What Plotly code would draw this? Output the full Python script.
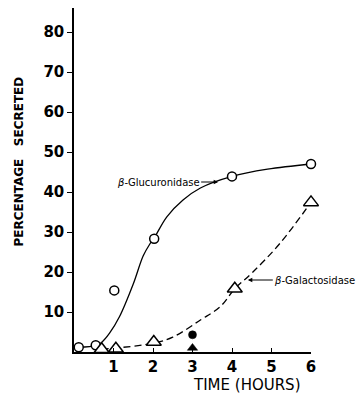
import plotly.graph_objects as go

# Data
glu_hours = [0.12, 0.55, 1.02, 2.03, 4.0, 6.0]
glu_pct = [1.2, 1.7, 15.4, 28.3, 43.9, 47.0]

gal_hours = [0.7, 1.06, 2.02, 4.07, 6.0]
gal_pct = [0.7, 0.8, 2.5, 15.8, 37.4]

# Hand-drawn fitted curves
glu_fit_hours = [0.12, 0.55, 0.7, 0.9, 1.15, 1.5, 1.75, 1.92, 2.03, 2.35, 2.76, 3.2, 4.0, 4.9, 6.0]
glu_fit_pct = [1.2, 1.6, 2.4, 4.7, 8.8, 17.0, 24.0, 27.0, 28.5, 33.8, 38.0, 41.0, 43.9, 45.7, 47.0]

gal_fit_hours = [0.7, 1.06, 2.02, 2.5, 3.2, 3.7, 4.07, 4.53, 5.2, 6.0]
gal_fit_pct = [0.7, 1.0, 2.2, 3.7, 8.0, 11.3, 15.8, 20.0, 27.0, 37.4]

# Single filled points at 3 hours
filled_circle_hours = [3.0]
filled_circle_pct = [4.3]
filled_triangle_hours = [3.0]
filled_triangle_pct = [1.0]

y_ticks = [10, 20, 30, 40, 50, 60, 70, 80]
x_ticks = [1, 2, 3, 4, 5, 6]

TICKFONT = dict(size=15, family="DejaVu Sans", color="black", weight="bold")

fig = go.Figure()

fig.add_trace(go.Scatter(x=glu_fit_hours, y=glu_fit_pct, mode="lines",
                         line=dict(color="black", width=1.3, shape="spline", smoothing=1.0),
                         hoverinfo="skip", showlegend=False, cliponaxis=False))
fig.add_trace(go.Scatter(x=gal_fit_hours, y=gal_fit_pct, mode="lines",
                         line=dict(color="black", width=1.3, dash="7px,4px", shape="spline", smoothing=1.0),
                         hoverinfo="skip", showlegend=False, cliponaxis=False))

fig.add_trace(go.Scatter(x=glu_hours, y=glu_pct, mode="markers", name="β-Glucuronidase",
                         marker=dict(symbol="circle", size=9, color="white",
                                     line=dict(color="black", width=1.5)),
                         showlegend=False, cliponaxis=False))
fig.add_trace(go.Scatter(x=gal_hours, y=gal_pct, mode="markers", name="β-Galactosidase",
                         marker=dict(symbol="triangle-up", size=13, color="white",
                                     line=dict(color="black", width=1.5)),
                         showlegend=False, cliponaxis=False))
fig.add_trace(go.Scatter(x=filled_circle_hours, y=filled_circle_pct, mode="markers",
                         marker=dict(symbol="circle", size=8, color="black", opacity=1,
                                     line=dict(color="black", width=0.5)),
                         showlegend=False, cliponaxis=False))
fig.add_trace(go.Scatter(x=filled_triangle_hours, y=filled_triangle_pct, mode="markers",
                         marker=dict(symbol="triangle-up", size=9, color="black", opacity=1,
                                     line=dict(color="black", width=0.5)),
                         showlegend=False, cliponaxis=False))

fig.update_layout(
    width=362, height=395,
    margin=dict(l=74, r=51, t=8, b=43),
    paper_bgcolor="white", plot_bgcolor="white",
    font=dict(family="DejaVu Sans", color="black"),
    xaxis=dict(range=[0, 6], tickvals=x_ticks, ticktext=[str(v) for v in x_ticks],
               ticks="inside", ticklen=4, tickwidth=1, tickcolor="black",
               showline=True, linecolor="black", linewidth=1.5,
               showgrid=False, zeroline=False, automargin=False,
               tickfont=TICKFONT, fixedrange=True),
    yaxis=dict(range=[0, 86], tickvals=y_ticks, ticktext=[str(v) for v in y_ticks],
               ticks="outside", ticklen=5, tickwidth=1, tickcolor="black",
               showline=True, linecolor="black", linewidth=1.5,
               showgrid=False, zeroline=False, automargin=False,
               tickfont=TICKFONT, fixedrange=True),
)

fig.add_annotation(text="PERCENTAGE   SECRETED", xref="paper", yref="paper",
                   x=-0.23, y=0.555, xanchor="center", yanchor="middle",
                   textangle=-90, showarrow=False,
                   font=dict(size=12, family="DejaVu Sans", color="black", weight="bold"))
fig.add_annotation(text="TIME (HOURS)", xref="paper", yref="paper",
                   x=0.73, y=-0.097, xanchor="center", yanchor="middle",
                   showarrow=False,
                   font=dict(size=15, family="DejaVu Sans", color="black"))

fig.add_annotation(text="<i>β</i>-Glucuronidase", x=3.65, y=42.5, xref="x", yref="y",
                   showarrow=True, ax=-60, ay=0, arrowhead=2, arrowsize=0.9, arrowwidth=1,
                   arrowcolor="black", standoff=0,
                   font=dict(size=10, family="DejaVu Sans", color="black"))
fig.add_annotation(text="<i>β</i>-Galactosidase", x=4.4, y=18.0, xref="x", yref="y",
                   showarrow=True, ax=67, ay=0, arrowhead=2, arrowsize=0.9, arrowwidth=1,
                   arrowcolor="black", standoff=0,
                   font=dict(size=10, family="DejaVu Sans", color="black"))

fig.write_html("out.html",
               config={"displayModeBar": False},
               post_script="document.body.style.margin='0px';document.body.style.padding='0px';")
